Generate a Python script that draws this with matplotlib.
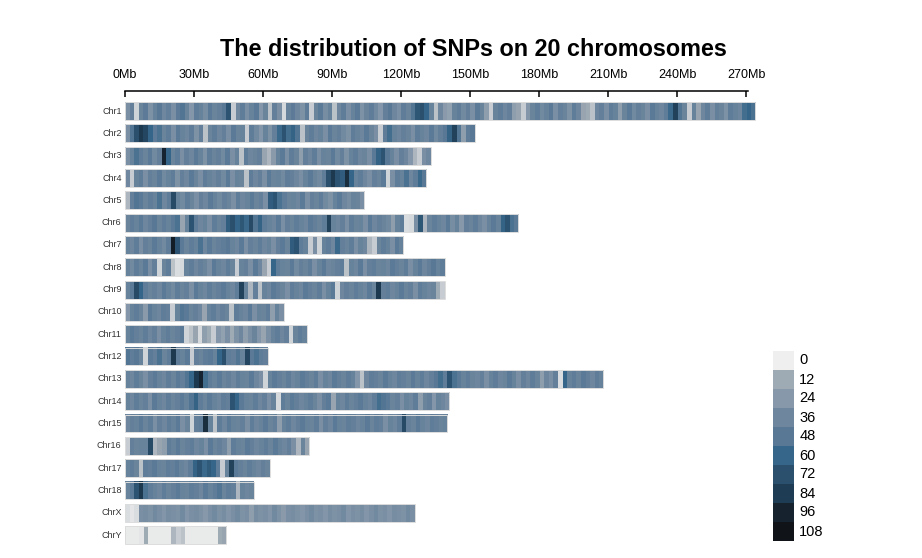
import numpy as np
import matplotlib.pyplot as plt
from matplotlib.colors import LinearSegmentedColormap, ListedColormap
from matplotlib.patches import Rectangle

plt.rcParams['font.family'] = ['Liberation Sans', 'DejaVu Sans']

# Cromosomas y longitudes (Mb)
cromosomas = ['Chr1', 'Chr2', 'Chr3', 'Chr4', 'Chr5', 'Chr6', 'Chr7', 'Chr8', 'Chr9', 'Chr10',
              'Chr11', 'Chr12', 'Chr13', 'Chr14', 'Chr15', 'Chr16', 'Chr17', 'Chr18', 'ChrX', 'ChrY']
longitudes = [274, 152, 133, 131, 104, 171, 121, 139, 139, 69,
              79, 62, 208, 141, 140, 80, 63, 56, 126, 44]

# Numero de SNPs por ventana de 2Mb
chr1 = [30, 42, 5, 38, 45, 28, 40, 48, 35, 42,
        30, 45, 50, 38, 25, 44, 40, 32, 46, 38,
        42, 48, 70, 6, 35, 44, 30, 40, 46, 25,
        38, 8, 42, 30, 4, 40, 45, 36, 28, 44,
        6, 38, 46, 32, 40, 8, 36, 44, 30, 40,
        46, 28, 38, 44, 34, 25, 42, 48, 36, 30,
        44, 38, 50, 68, 72, 60, 40, 8, 36, 22,
        18, 40, 44, 34, 42, 30, 46, 38, 20, 6,
        40, 44, 36, 42, 20, 15, 6, 25, 38, 44,
        34, 40, 46, 30, 42, 38, 28, 44, 36, 15,
        12, 8, 36, 42, 30, 44, 40, 20, 38, 46,
        34, 42, 38, 30, 46, 40, 36, 44, 58, 80,
        50, 38, 6, 40, 15, 36, 44, 30, 42, 38,
        28, 44, 40, 36, 55, 60, 52]
chr2 = [30, 50, 72, 85, 78, 60, 45, 52, 38, 44,
        30, 46, 40, 36, 44, 28, 42, 8, 38, 44,
        36, 42, 30, 46, 38, 40, 6, 44, 34, 25,
        40, 28, 42, 58, 70, 55, 62, 50, 8, 38,
        44, 36, 40, 30, 46, 38, 42, 34, 28, 44,
        40, 36, 46, 38, 30, 6, 44, 55, 40, 36,
        42, 38, 30, 44, 40, 36, 46, 34, 42, 48,
        62, 80, 50, 20, 44, 48]
chr3 = [30, 40, 52, 44, 38, 46, 34, 42, 95, 60,
        38, 44, 30, 42, 36, 46, 40, 28, 44, 38,
        42, 34, 46, 30, 40, 8, 44, 36, 38, 42,
        15, 10, 22, 40, 46, 30, 44, 38, 20, 42,
        36, 44, 30, 40, 38, 46, 34, 42, 28, 40,
        44, 36, 38, 30, 46, 62, 70, 48, 40, 30,
        42, 36, 25, 10, 6, 30, 35]
chr4 = [35, 6, 40, 44, 30, 42, 38, 46, 34, 40,
        44, 28, 42, 36, 46, 38, 30, 44, 40, 36,
        42, 34, 46, 30, 40, 38, 8, 44, 36, 42,
        30, 46, 38, 40, 34, 44, 42, 36, 30, 40,
        46, 38, 34, 44, 72, 85, 70, 65, 90, 60,
        40, 44, 36, 30, 42, 38, 46, 5, 30, 44,
        40, 52, 36, 44, 58, 48]
chr5 = [10, 42, 50, 46, 38, 44, 40, 52, 36, 44,
        75, 40, 34, 44, 38, 30, 42, 36, 46, 40,
        34, 42, 38, 30, 44, 36, 40, 46, 38, 42,
        30, 65, 70, 52, 44, 38, 40, 36, 46, 30,
        42, 38, 44, 34, 28, 40, 46, 36, 32, 40,
        38, 30]
chr6 = [38, 44, 40, 46, 36, 42, 48, 38, 44, 40,
        46, 52, 15, 40, 70, 44, 36, 40, 30, 44,
        38, 42, 64, 72, 60, 68, 58, 75, 50, 62,
        44, 40, 36, 46, 30, 42, 38, 44, 40, 36,
        46, 42, 38, 44, 80, 40, 36, 42, 30, 44,
        38, 40, 30, 46, 36, 42, 38, 34, 20, 40,
        44, 3, 4, 30, 68, 10, 38, 44, 40, 36,
        46, 32, 40, 24, 42, 38, 44, 36, 30, 40,
        46, 40, 62, 70, 52, 46]
chr7 = [40, 36, 44, 30, 42, 38, 46, 40, 34, 44,
        100, 70, 46, 38, 44, 40, 52, 36, 46, 38,
        42, 44, 48, 40, 36, 46, 30, 42, 38, 44,
        36, 40, 30, 42, 46, 38, 65, 70, 44, 40,
        6, 30, 5, 40, 44, 36, 58, 42, 38, 44,
        30, 40, 36, 10, 6, 38, 44, 40, 30, 46,
        40]
chr8 = [40, 34, 44, 38, 46, 30, 42, 5, 38, 44,
        8, 3, 4, 40, 44, 36, 42, 38, 30, 46,
        40, 36, 44, 38, 6, 40, 42, 30, 46, 36,
        15, 6, 60, 44, 40, 38, 46, 34, 42, 38,
        44, 30, 40, 46, 36, 38, 42, 44, 8, 40,
        36, 46, 30, 42, 44, 38, 40, 36, 46, 42,
        38, 44, 30, 40, 46, 36, 42, 48, 40, 44]
chr9 = [40, 46, 75, 60, 44, 38, 42, 36, 46, 40,
        34, 44, 38, 42, 30, 46, 40, 36, 44, 38,
        42, 46, 40, 36, 44, 80, 40, 10, 42, 8,
        40, 36, 46, 42, 38, 30, 44, 40, 36, 46,
        42, 38, 44, 30, 40, 46, 5, 36, 42, 38,
        44, 40, 36, 46, 38, 85, 42, 44, 36, 40,
        46, 38, 42, 30, 44, 40, 36, 38, 12, 6]
chr10 = [25, 40, 44, 38, 22, 46, 40, 36, 44, 42,
         6, 40, 50, 46, 38, 42, 36, 15, 40, 44,
         36, 42, 38, 8, 44, 40, 36, 46, 30, 40,
         38, 44, 20, 40, 30]
chr11 = [40, 46, 42, 38, 44, 36, 42, 30, 40, 44,
         38, 42, 46, 5, 8, 15, 4, 20, 12, 6,
         25, 18, 30, 12, 28, 36, 20, 30, 38, 26,
         15, 30, 40, 44, 36, 42, 5, 38, 44, 40]
chr12 = [50, 44, 48, 40, 5, 46, 42, 52, 38, 44,
         85, 44, 40, 46, 6, 42, 38, 44, 46, 40,
         60, 72, 44, 42, 50, 40, 78, 46, 52, 44,
         42]
chr13 = [40, 36, 44, 38, 30, 42, 46, 40, 36, 44,
         38, 46, 42, 50, 60, 85, 95, 55, 44, 40,
         46, 38, 42, 36, 44, 40, 38, 46, 36, 30,
         5, 40, 46, 42, 38, 44, 36, 40, 46, 42,
         38, 44, 30, 40, 36, 46, 42, 38, 44, 40,
         25, 8, 36, 44, 42, 38, 46, 40, 36, 44,
         42, 38, 46, 40, 44, 36, 42, 48, 55, 44,
         70, 52, 46, 40, 44, 38, 36, 42, 30, 40,
         44, 36, 38, 46, 40, 30, 42, 36, 44, 38,
         20, 36, 30, 42, 3, 60, 40, 44, 38, 46,
         42, 36, 44, 40]
chr14 = [40, 36, 44, 38, 42, 30, 46, 40, 36, 44,
         38, 42, 46, 40, 50, 62, 44, 38, 46, 40,
         36, 44, 42, 70, 60, 46, 40, 38, 44, 36,
         42, 30, 40, 4, 44, 38, 46, 42, 36, 40,
         44, 38, 30, 42, 46, 15, 40, 36, 44, 38,
         42, 46, 40, 36, 44, 55, 50, 46, 38, 42,
         30, 40, 36, 44, 20, 38, 42, 25, 40, 36,
         30]
chr15 = [36, 42, 40, 46, 38, 44, 30, 42, 36, 44,
         40, 46, 30, 38, 5, 42, 44, 90, 40, 8,
         44, 36, 46, 40, 38, 42, 30, 44, 36, 40,
         46, 38, 42, 20, 40, 44, 36, 42, 46, 40,
         38, 44, 30, 42, 36, 46, 40, 38, 44, 42,
         36, 40, 46, 38, 44, 42, 30, 40, 36, 44,
         75, 42, 38, 46, 40, 36, 44, 42, 38, 40]
chr16 = [6, 42, 38, 40, 40, 75, 10, 15, 20, 44,
         40, 46, 38, 42, 44, 36, 40, 30, 46, 38,
         42, 36, 20, 44, 40, 38, 46, 42, 36, 40,
         44, 38, 46, 40, 36, 42, 30, 10, 38, 15]
chr17 = [40, 44, 38, 8, 44, 42, 46, 40, 38, 44,
         42, 46, 40, 36, 44, 62, 70, 58, 66, 60,
         44, 6, 40, 80, 46, 42, 38, 44, 40, 36,
         42, 38]
chr18 = [40, 46, 70, 85, 52, 44, 40, 36, 44, 38,
         42, 46, 40, 38, 44, 42, 36, 46, 40, 44,
         50, 38, 44, 42, 10, 40, 36, 38]
chrX = [3, 2, 3, 30, 32, 28, 34, 30, 26, 32,
        30, 28, 34, 26, 30, 32, 28, 24, 30, 34,
        28, 32, 26, 30, 34, 28, 30, 20, 32, 28,
        30, 26, 34, 28, 22, 30, 32, 28, 26, 30,
        34, 28, 30, 26, 32, 28, 30, 34, 26, 30,
        28, 32, 26, 30, 34, 28, 30, 26, 32, 30,
        28, 34, 30]
chrY = [1, 1, 1, 2, 12, 1, 1, 1, 1, 1,
        10, 6, 8, 1, 1, 1, 1, 1, 1, 1,
        12, 15]

densidades = [chr1, chr2, chr3, chr4, chr5, chr6, chr7, chr8, chr9, chr10,
              chr11, chr12, chr13, chr14, chr15, chr16, chr17, chr18, chrX, chrY]

# Leyenda
niveles = [0, 12, 24, 36, 48, 60, 72, 84, 96, 108]
colores = ['#efefef', '#9eaab4', '#8798aa', '#6e879e', '#587896',
           '#36678a', '#2b506e', '#1e3c54', '#16232f', '#101418']
ticks_mb = [0, 30, 60, 90, 120, 150, 180, 210, 240, 270]

W, H = 922, 558
fig = plt.figure(figsize=(W / 100, H / 100), dpi=100)
ax = fig.add_axes([125 / W, 1 - 548 / H, (757.5 - 125) / W, (548 - 91) / H])

cmap = LinearSegmentedColormap.from_list('snp', colores)
for i, (vals, largo) in enumerate(zip(densidades, longitudes)):
    ax.imshow(np.array([vals]), cmap=cmap, vmin=0, vmax=108, aspect='auto',
              interpolation='nearest', extent=[0, largo, i + 0.4, i - 0.4])
    ax.add_patch(Rectangle((0, i - 0.4), largo, 0.8, fill=False, ec='#dcdcdc', lw=0.7))
    ax.text(-1.5, i, cromosomas[i], ha='right', va='center', fontsize=6.5, color='#333333')

ax.set_xlim(0, 275)
ax.set_ylim(19.58, -0.9)
ax.set_yticks([])
for lado in ['left', 'right', 'bottom']:
    ax.spines[lado].set_visible(False)
ax.spines['top'].set_bounds(0, 271)
ax.spines['top'].set_linewidth(1.1)
ax.xaxis.tick_top()
ax.set_xticks(ticks_mb)
ax.set_xticklabels([str(t) + 'Mb' for t in ticks_mb], fontsize=9)
ax.tick_params(axis='x', direction='in', length=4, width=1.1, pad=7.5)

fig.text(473 / W, 1 - 50 / H, 'The distribution of SNPs on 20 chromosomes',
         ha='center', va='center', fontsize=16.8, fontweight='bold')

# Barra de colores
axl = fig.add_axes([773 / W, 1 - 541 / H, 21 / W, 190 / H])
axl.imshow(np.arange(len(niveles)).reshape(-1, 1), cmap=ListedColormap(colores),
           aspect='auto', extent=[0, 1, len(niveles), 0])
axl.set_xlim(0, 1)
axl.set_ylim(len(niveles), 0)
axl.axis('off')
for k, n in enumerate(niveles):
    axl.text(1.25, k + 0.5, str(n), ha='left', va='center', fontsize=10.5)

fig.savefig('out.png', dpi=100)
